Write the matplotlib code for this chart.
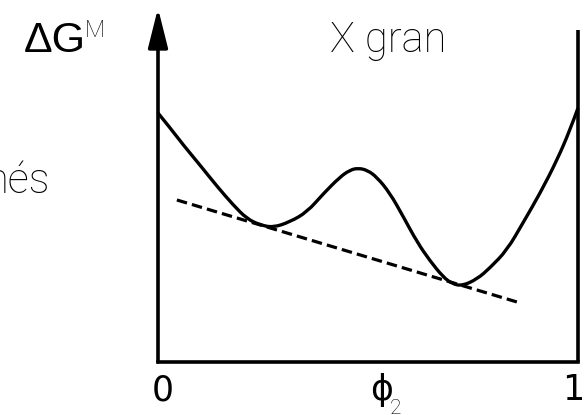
import matplotlib.pyplot as plt
from matplotlib.path import Path
from matplotlib.patches import PathPatch
from matplotlib.transforms import offset_copy

# free energy of mixing curve (phi_2 from 0 to 1)
phi = [0.000, 0.029, 0.060, 0.100, 0.140, 0.179, 0.212, 0.243, 0.274, 0.314,
       0.355, 0.393, 0.433, 0.457, 0.476, 0.498, 0.521, 0.552, 0.583, 0.617,
       0.648, 0.679, 0.700, 0.724, 0.760, 0.790, 0.831, 0.869, 0.910, 0.950,
       0.981, 1.000]
dG = [0.750, 0.705, 0.654, 0.593, 0.530, 0.473, 0.431, 0.413, 0.405, 0.422,
      0.452, 0.506, 0.557, 0.578, 0.584, 0.578, 0.557, 0.509, 0.440, 0.361,
      0.304, 0.256, 0.236, 0.229, 0.250, 0.283, 0.337, 0.419, 0.509, 0.608,
      0.699, 0.765]

# common tangent (dashed)
tan_phi = [0.045, 0.862]
tan_dG = [0.488, 0.178]

tick_pos = [0.0, 0.533, 1.0]
tick_lab = ['0', '\u03d5', '1']

fig = plt.figure(figsize=(5.85, 4.15), dpi=100)
ax = fig.add_axes([158 / 585, 53 / 415, 420 / 585, 332 / 415])
ax.set_xlim(0, 1)
ax.set_ylim(0, 1)
ax.axis('off')

lw_axis = 2.6
# frame: bottom line, right line, left axis with arrow
ax.plot([0, 1], [0, 0], color='black', lw=lw_axis, clip_on=False, solid_capstyle='projecting')
ax.plot([1, 1], [0, 1], color='black', lw=lw_axis, clip_on=False, solid_capstyle='butt')
ax.annotate('', xy=(0, 1.066), xytext=(0, 0), annotation_clip=False,
            arrowprops=dict(arrowstyle='-|>,head_length=1.2,head_width=0.3',
                            mutation_scale=20, lw=lw_axis, color='black',
                            shrinkA=0, shrinkB=0))

# smooth curve through the read points (quadratic bezier segments)
pts = list(zip(phi, dG))
verts = [pts[0]]
codes = [Path.MOVETO]
for i in range(1, len(pts) - 2):
    mid = ((pts[i][0] + pts[i + 1][0]) / 2, (pts[i][1] + pts[i + 1][1]) / 2)
    verts += [pts[i], mid]
    codes += [Path.CURVE3, Path.CURVE3]
verts += [pts[-2], pts[-1]]
codes += [Path.CURVE3, Path.CURVE3]
curve = PathPatch(Path(verts, codes), facecolor='none', edgecolor='black',
                  lw=2.4, clip_on=False, joinstyle='round')
ax.add_patch(curve)

ax.plot(tan_phi, tan_dG, color='black', lw=2.3, dashes=(3.3, 1.6), clip_on=False)

# tick labels under the bottom line
offs = [5, 0, -5]
for x, lab, o in zip(tick_pos, tick_lab, offs):
    tr = offset_copy(ax.transData, fig=fig, x=o, y=-38, units='dots')
    ax.text(x, 0, lab, transform=tr, ha='center', va='baseline',
            fontsize=25, family='DejaVu Sans', clip_on=False)
tr2 = offset_copy(ax.transData, fig=fig, x=14, y=-52, units='dots')
ax.text(tick_pos[1], 0, '2', transform=tr2, ha='center', va='baseline',
        fontsize=15, family='Roboto', fontweight='light', clip_on=False)

# labels
fig.text(24 / 585, 1 - 52 / 415, '\u0394G', fontsize=31, family='Liberation Sans',
         ha='left', va='baseline')
fig.text(85 / 585, 1 - 37 / 415, 'M', fontsize=17, family='Roboto', fontweight='light',
         ha='left', va='baseline')
fig.text(330 / 585, 1 - 52 / 415, 'X gran', fontsize=30, family='Roboto', fontweight='light',
         ha='left', va='baseline')
fig.text(50 / 585, 1 - 193 / 415, 'nés', fontsize=30, family='Roboto', fontweight='light',
         ha='right', va='baseline')

fig.savefig('out.png', dpi=100)
